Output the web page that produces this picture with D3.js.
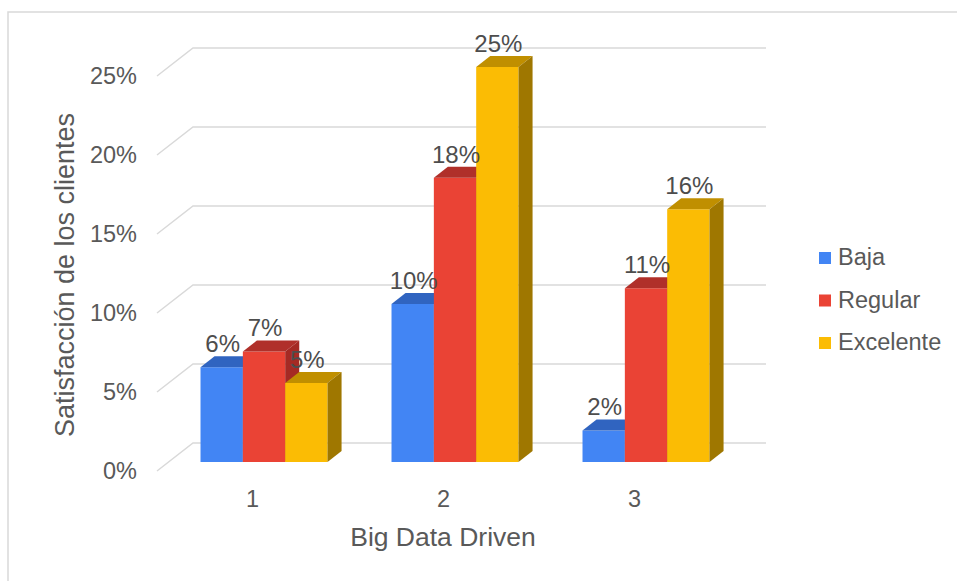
<!DOCTYPE html>
<html>
<head>
<meta charset="utf-8">
<script src="https://cdn.jsdelivr.net/npm/d3@7"></script>
<style>
  html, body { margin: 0; padding: 0; background: #fff; }
  svg { display: block; font-family: "Liberation Sans", Arial, sans-serif; }
</style>
</head>
<body>
<svg id="chart" width="957" height="581"></svg>
<script>
const categories = ["1", "2", "3"];
const seriesNames = ["Baja", "Regular", "Excelente"];
const baja = [0.06, 0.10, 0.02];
const regular = [0.07, 0.18, 0.11];
const excelente = [0.05, 0.25, 0.16];
const yTicks = [0, 0.05, 0.10, 0.15, 0.20, 0.25];
const xTitle = "Big Data Driven";
const yTitle = "Satisfacción de los clientes";

const seriesValues = [baja, regular, excelente];
const colors = {
  front: ["#4285f4", "#ea4335", "#fbbc04"],
  top:   ["#3064c0", "#b0302a", "#c08f00"],
  side:  ["#2a56a8", "#a52a24", "#9f7700"]
};

const svg = d3.select("#chart");
const textColor = "#595959";

// border (top and left visible)
svg.append("rect").attr("x", 8).attr("y", 12).attr("width", 1000).attr("height", 700)
  .attr("fill", "none").attr("stroke", "#d9d9d9").attr("stroke-width", 1.5);

// 3D geometry
const depth = { dx: 36, dy: -28 };
const t0 = 0.32, t1 = 0.71;

const x = d3.scaleBand().domain(categories).range([157, 730])
  .paddingInner(0.335).paddingOuter(0.1675);
const xs = d3.scaleBand().domain(seriesNames).range([0, x.bandwidth()]);
const y = d3.scaleLinear().domain([0, 0.25]).range([471, 76]);

// gridlines
const grid = svg.append("g");
yTicks.forEach(v => {
  const yf = y(v);
  grid.append("path")
    .attr("d", `M157,${yf} L${157 + depth.dx},${yf + depth.dy} L766,${yf + depth.dy}`)
    .attr("fill", "none").attr("stroke", "#d9d9d9").attr("stroke-width", 1.5);
});

// y tick labels
svg.append("g").selectAll("text").data(yTicks).join("text")
  .attr("x", 137).attr("y", d => y(d))
  .attr("text-anchor", "end").attr("dominant-baseline", "central")
  .attr("font-size", 23.5).attr("fill", textColor)
  .text(d3.format(".0%"));

// x category labels
svg.append("g").selectAll("text").data(categories).join("text")
  .attr("x", d => x(d) + x.bandwidth() / 2).attr("y", 507)
  .attr("text-anchor", "middle")
  .attr("font-size", 23.5).attr("fill", textColor)
  .text(d => d);

// bars
const bars = svg.append("g");
const labels = svg.append("g");
categories.forEach((c, ci) => {
  seriesNames.forEach((s, si) => {
    const v = seriesValues[si][ci];
    const ox = t0 * depth.dx, oy = t0 * depth.dy;
    const ddx = (t1 - t0) * depth.dx, ddy = (t1 - t0) * depth.dy;
    const xl = x(c) + xs(s) + ox;
    const xr = xl + xs.bandwidth();
    const yb = y(0) + oy;
    const yt = y(v) + oy;
    // front
    bars.append("path").attr("d", `M${xl},${yb} L${xl},${yt} L${xr},${yt} L${xr},${yb} Z`)
      .attr("fill", colors.front[si]);
    // top
    bars.append("path").attr("d", `M${xl},${yt} L${xl + ddx},${yt + ddy} L${xr + ddx},${yt + ddy} L${xr},${yt} Z`)
      .attr("fill", colors.top[si]);
    // side
    bars.append("path").attr("d", `M${xr},${yt} L${xr + ddx},${yt + ddy} L${xr + ddx},${yb + ddy} L${xr},${yb} Z`)
      .attr("fill", colors.side[si]);
    labels.append("text")
      .attr("x", (xl + xr) / 2 + 1).attr("y", yt - 15)
      .attr("text-anchor", "middle")
      .attr("font-size", 24).attr("fill", "#4d4d4d")
      .text(d3.format(".0%")(v));
  });
});

// legend
const legend = svg.append("g").attr("transform", "translate(819,252)");
seriesNames.forEach((s, i) => {
  const g = legend.append("g").attr("transform", `translate(0,${i * 42.5})`);
  g.append("rect").attr("width", 12).attr("height", 12).attr("fill", colors.front[i]);
  g.append("text").attr("x", 19).attr("y", 13)
    .attr("font-size", 23.5).attr("fill", textColor).text(s);
});

// axis titles
svg.append("text").attr("x", 443).attr("y", 546)
  .attr("text-anchor", "middle").attr("font-size", 26.5).attr("fill", textColor)
  .text(xTitle);
svg.append("text").attr("transform", "translate(74,275) rotate(-90)")
  .attr("text-anchor", "middle").attr("font-size", 27).attr("fill", textColor)
  .text(yTitle);
</script>
</body>
</html>
